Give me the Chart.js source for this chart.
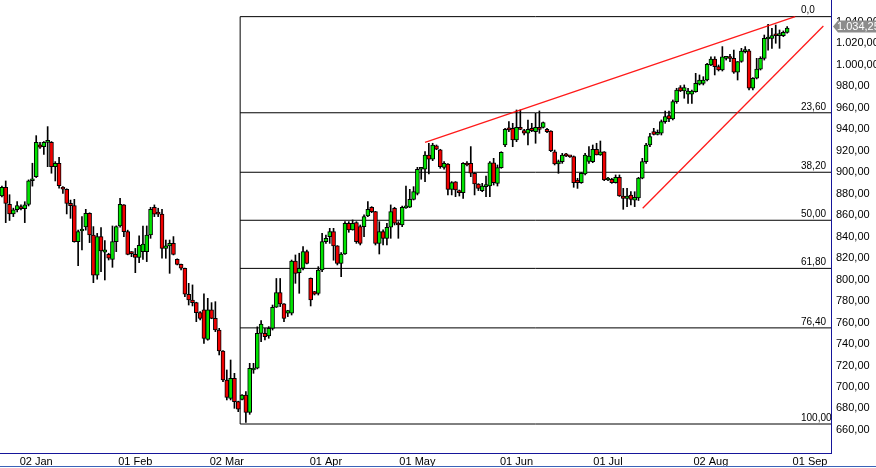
<!DOCTYPE html>
<html>
<head>
<meta charset="utf-8">
<script src="https://cdn.jsdelivr.net/npm/chart.js@4.4.1/dist/chart.umd.min.js"></script>
<style>
  html, body { margin: 0; padding: 0; background: #fff; }
  #wrap { width: 876px; height: 468px; }
</style>
</head>
<body>
<div id="wrap"><canvas id="grafico" width="876" height="468"></canvas></div>
<script>
// candles, one per session
const opens = [877.8,885.9,870.0,861.0,865.0,867.3,866.0,870.0,892.0,895.9,
  925.5,923.8,927.8,927.8,905.1,908.2,884.9,884.0,871.0,868.8,
  835.3,845.2,849.0,861.7,841.5,804.0,840.0,825.4,823.5,818.8,
  835.3,849.9,869.5,844.6,824.7,823.5,820.7,826.0,826.0,841.5,
  867.3,861.5,861.0,829.0,831.3,833.7,818.9,814.2,810.5,786.3,
  781.0,778.5,769.2,771.7,744.3,771.7,763.9,753.0,733.5,706.5,
  689.4,708.0,686.3,688.5,692.5,676.4,715.8,717.4,749.9,749.9,
  747.4,754.6,774.2,787.8,777.3,768.6,768.6,817.3,806.4,810.5,
  826.0,801.2,788.7,787.2,808.9,835.3,840.0,844.6,831.3,815.1,
  823.8,852.4,846.2,853.0,849.3,849.3,859.2,867.3,863.2,833.7,
  844.6,838.4,848.7,866.4,852.4,850.8,866.8,867.3,874.7,880.3,
  902.7,902.7,916.0,912.0,924.4,920.7,904.5,907.6,884.0,891.0,
  882.8,880.9,908.3,908.3,899.0,889.0,882.8,886.5,887.1,908.8,
  889.6,904.2,925.3,940.8,940.8,930.0,941.7,938.6,936.2,940.8,
  937.7,941.7,941.7,939.9,938.3,919.0,907.6,909.8,916.9,914.6,
  914.4,892.7,890.2,898.3,910.0,909.8,921.3,916.0,919.0,892.7,
  893.3,890.2,895.2,877.8,875.6,878.7,874.0,876.0,894.3,909.8,
  925.3,937.7,935.2,936.2,947.0,952.6,949.5,965.7,978.7,975.6,
  972.5,972.5,975.0,982.0,982.7,985.8,999.8,1005.4,998.2,995.1,
  1005.9,1006.2,1006.0,993.0,1003.0,1012.2,1013.0,978.1,987.4,996.0,
  1006.0,1024.0,1024.6,1027.4,1027.1,1027.1,1030.2];
const highs = [887.0,891.8,879.0,866.5,872.5,869.5,872.5,892.8,908.3,934.0,
  927.8,928.5,942.4,928.5,909.8,913.8,886.5,884.5,874.0,874.7,
  846.0,858.6,865.4,862.2,849.3,843.0,848.4,836.3,824.5,849.9,
  850.0,875.7,869.8,846.0,826.0,829.0,840.6,849.9,849.9,867.3,
  869.5,866.4,865.4,836.8,836.8,840.0,819.3,814.5,810.8,796.5,
  795.0,778.9,770.1,786.6,782.5,778.5,779.4,754.6,733.8,715.8,
  725.1,712.7,686.8,693.0,695.6,722.0,722.0,756.0,761.7,754.6,
  756.2,776.3,801.0,801.0,777.6,771.4,818.2,822.9,824.5,830.6,
  827.5,801.5,789.0,812.0,843.0,841.5,847.7,847.7,831.6,825.1,
  853.9,853.9,855.5,853.9,850.8,860.2,872.6,867.9,863.5,853.9,
  846.2,852.4,869.5,867.3,853.9,868.5,887.1,884.0,886.5,904.5,
  903.6,919.1,926.9,926.9,925.3,921.3,909.8,907.9,891.2,891.2,
  883.4,908.9,909.8,923.8,899.6,889.3,889.6,896.4,909.8,912.9,
  906.7,919.0,940.8,947.0,945.5,957.9,957.9,939.9,948.6,945.5,
  954.8,957.0,946.7,940.8,938.6,920.6,911.3,917.5,917.5,915.1,
  915.1,894.3,899.6,917.5,923.7,925.3,926.9,929.0,919.1,895.2,
  894.3,897.4,897.4,884.9,884.9,881.8,881.8,895.2,912.9,926.8,
  936.2,940.8,939.3,948.6,956.9,956.9,967.2,978.1,980.6,981.2,
  978.1,976.5,992.0,990.5,988.9,1001.3,1007.5,1007.5,999.8,1016.9,
  1007.5,1009.7,1013.7,1002.9,1015.3,1016.9,1014.3,988.0,1006.0,1007.5,
  1027.7,1037.7,1033.9,1037.0,1032.4,1031.5,1035.5];
const lows = [877.0,853.0,855.0,858.6,863.0,864.8,853.0,868.5,887.0,895.0,
  922.2,916.6,905.1,899.0,891.8,885.0,880.3,861.1,857.0,834.8,
  813.0,827.5,846.0,834.4,797.1,800.3,807.4,799.6,818.2,811.4,
  826.0,848.7,840.0,823.0,821.3,806.4,815.7,818.8,816.7,838.4,
  858.6,858.6,819.8,819.8,805.8,822.9,813.6,808.9,784.1,776.3,
  775.4,760.8,762.3,740.6,743.5,763.5,751.5,729.8,704.9,687.9,
  687.9,680.1,677.0,687.9,667.0,674.5,712.7,716.8,742.2,743.7,
  745.3,753.0,774.0,774.8,760.8,765.5,767.0,796.5,787.2,809.0,
  814.5,775.4,785.6,785.6,807.4,833.7,833.7,818.0,813.6,802.7,
  823.5,844.0,846.0,833.7,832.2,840.0,858.6,862.3,832.2,823.8,
  832.2,832.2,838.4,850.8,838.4,849.3,866.3,867.0,874.1,878.8,
  893.4,891.2,898.3,910.7,920.9,903.6,902.7,878.8,878.8,877.2,
  877.8,875.6,905.8,895.8,878.8,882.8,881.8,877.2,877.2,888.0,
  887.1,903.6,923.7,937.7,923.7,928.4,939.5,934.6,925.3,937.7,
  926.9,936.2,941.1,936.8,919.1,906.7,898.9,908.2,914.4,913.8,
  885.9,884.9,889.6,897.4,908.2,908.8,916.0,915.6,892.1,892.1,
  889.6,889.8,877.4,865.4,867.9,869.4,867.9,873.6,893.8,908.2,
  923.7,934.6,934.6,934.6,945.5,947.0,948.6,964.1,975.0,968.8,
  964.1,964.1,974.4,981.2,981.2,984.9,999.2,990.5,994.2,994.2,
  1004.4,1002.9,992.0,985.8,1002.3,1011.0,976.5,976.5,986.8,995.1,
  1004.4,1013.7,1015.3,1020.0,1015.3,1026.2,1029.3];
const closes = [885.9,871.0,861.0,865.0,868.8,866.0,869.5,892.0,892.6,927.8,
  923.2,927.8,928.4,905.1,908.2,887.4,884.2,871.0,868.8,835.3,
  844.6,845.8,861.7,841.5,804.0,840.0,826.6,827.6,819.8,835.3,
  849.3,870.0,844.6,823.5,824.2,820.7,831.9,833.1,841.5,865.4,
  860.8,860.9,829.0,831.3,833.7,823.5,814.2,810.5,786.3,781.0,
  778.5,769.2,763.9,745.3,771.7,763.9,753.0,733.5,706.5,690.3,
  708.0,686.3,679.2,692.5,676.4,717.4,717.4,749.9,758.6,746.8,
  754.6,774.2,787.8,777.3,763.9,771.0,817.3,805.8,810.5,826.0,
  815.1,781.0,786.3,808.9,835.3,838.4,844.6,831.3,815.1,823.8,
  852.4,846.2,852.4,835.3,833.7,858.6,865.4,863.2,833.7,844.6,
  838.4,848.7,863.2,852.4,850.8,867.3,867.6,874.7,881.9,902.7,
  903.2,916.0,912.0,925.3,921.3,905.2,908.2,884.0,890.3,883.4,
  880.9,908.3,906.7,899.0,889.0,884.9,887.1,887.5,908.8,890.2,
  904.2,918.5,939.9,939.3,930.0,941.7,939.9,936.2,939.9,938.6,
  941.7,939.9,946.1,937.7,920.0,907.6,909.8,916.0,915.1,914.2,
  890.2,890.2,898.9,916.0,915.0,921.3,916.0,919.0,892.7,894.3,
  890.2,895.2,877.8,875.6,877.8,874.7,876.6,894.5,909.8,925.3,
  933.1,935.2,937.1,947.0,951.7,949.5,965.7,976.5,975.6,978.7,
  975.6,975.6,982.7,985.8,985.8,1000.4,1005.4,998.2,995.1,1007.5,
  1006.2,1005.8,993.0,1003.0,1012.8,1013.4,978.1,987.4,996.0,1006.0,
  1024.6,1024.6,1027.1,1027.0,1027.7,1030.2,1034.25];

// eixo X: sessao onde cai cada rotulo de mes
const monthTickIdx = [9, 35, 59, 85, 109, 135, 159, 186, 212];
const monthTickLabels = ['02 Jan', '01 Feb', '02 Mar', '01 Apr', '01 May', '01 Jun', '01 Jul', '02 Aug', '01 Sep'];
const yTicks = [660, 680, 700, 720, 740, 760, 780, 800, 820, 840, 860, 880, 900, 920, 940, 960, 980, 1000, 1020, 1040];

// Fibonacci
const fibLabels = ['0,0', '23,60', '38,20', '50,00', '61,80', '76,40', '100,00'];
const fibPrices = [1044.8, 955.3, 899.9, 855.2, 810.4, 755.0, 665.5];
const fibStartIdx = 62.5;

// linhas de tendencia (sessao, preco)
const upperTrendX = [111.0, 208.1];
const upperTrendY = [927.8, 1044.8];
const lowerTrendX = [168.1, 215.5];
const lowerTrendY = [866.4, 1036.1];

const lastPrice = 1034.25;
const X_MAX = 217.5;

function formatarPreco(v) {
    const partes = v.toFixed(2).split('.');
    partes[0] = partes[0].replace(/\B(?=(\d{3})+(?!\d))/g, '.');
    return partes.join(',');
}

const FONTE = '"Liberation Sans", Arial, sans-serif';
const AZUL = '#16169a';

const wicks = opens.map((o, i) => ({ x: i, y: [lows[i], highs[i]] }));
const corpos = opens.map((o, i) => ({ x: i, y: [Math.min(o, closes[i]), Math.max(o, closes[i])] }));
const coresCorpo = opens.map((o, i) => closes[i] >= o ? '#00e400' : '#f00000');

const datasets = [];

// corpo por cima do pavio
datasets.push({
    type: 'bar', data: corpos, backgroundColor: coresCorpo, borderColor: '#000', borderWidth: 1,
    borderSkipped: false, barThickness: 4, minBarLength: 2, grouped: false, order: 0
});
datasets.push({
    type: 'bar', data: wicks, backgroundColor: '#000', borderWidth: 0,
    barThickness: 1, grouped: false, order: 1
});

// niveis de Fibonacci
fibPrices.forEach(p => {
    datasets.push({
        type: 'line', data: [{ x: fibStartIdx, y: p }, { x: X_MAX, y: p }],
        borderColor: '#000', borderWidth: 1, pointRadius: 0, fill: false, order: 3
    });
});
datasets.push({
    type: 'line', data: [{ x: fibStartIdx, y: fibPrices[fibPrices.length - 1] }, { x: fibStartIdx, y: fibPrices[0] }],
    borderColor: '#000', borderWidth: 1, pointRadius: 0, fill: false, order: 3
});

// tendencias em vermelho
datasets.push({
    type: 'line', data: upperTrendX.map((x, i) => ({ x: x, y: upperTrendY[i] })),
    borderColor: 'rgba(255,0,0,0.9)', borderWidth: 1.3, pointRadius: 0, fill: false, order: -1
});
datasets.push({
    type: 'line', data: lowerTrendX.map((x, i) => ({ x: x, y: lowerTrendY[i] })),
    borderColor: 'rgba(255,0,0,0.9)', borderWidth: 1.3, pointRadius: 0, fill: false, order: -1
});

const extras = {
    id: 'extras',
    afterDraw(chart) {
        const { ctx, chartArea, scales } = chart;
        const yS = scales.y;
        ctx.save();

        // rotulos de Fibonacci
        ctx.font = '10px ' + FONTE;
        ctx.fillStyle = '#000';
        ctx.textAlign = 'left';
        ctx.textBaseline = 'bottom';
        fibPrices.forEach((p, i) => {
            ctx.fillText(fibLabels[i], chartArea.right - 30, yS.getPixelForValue(p) - 1);
        });

        // etiqueta do ultimo preco
        const yp = Math.round(yS.getPixelForValue(lastPrice)) - 1.5;
        const x0 = chartArea.right + 2;
        ctx.fillStyle = '#8c8c8c';
        ctx.beginPath();
        ctx.moveTo(x0, yp);
        ctx.lineTo(x0 + 5, yp - 6);
        ctx.lineTo(chart.width, yp - 6);
        ctx.lineTo(chart.width, yp + 6);
        ctx.lineTo(x0 + 5, yp + 6);
        ctx.closePath();
        ctx.fill();
        ctx.fillStyle = '#fff';
        ctx.font = '11px ' + FONTE;
        ctx.textBaseline = 'middle';
        ctx.fillText(formatarPreco(lastPrice), x0 + 4, yp + 0.5);

        // linha azul do rodape
        ctx.strokeStyle = '#3a62b8';
        ctx.lineWidth = 1;
        ctx.beginPath();
        ctx.moveTo(0, chart.height - 1.5);
        ctx.lineTo(chart.width, chart.height - 1.5);
        ctx.stroke();
        ctx.restore();
    }
};

new Chart(document.getElementById('grafico'), {
    type: 'bar',
    data: { datasets: datasets },
    plugins: [extras],
    options: {
        responsive: false,
        animation: false,
        layout: { padding: 0 },
        plugins: { legend: { display: false }, tooltip: { enabled: false } },
        scales: {
            x: {
                type: 'linear', min: -0.5, max: X_MAX, offset: false,
                grid: { display: false, drawTicks: false },
                border: { display: true, color: AZUL, width: 1 },
                afterBuildTicks: s => { s.ticks = monthTickIdx.map(v => ({ value: v })); },
                afterFit: s => { s.height = 15; s.paddingLeft = 0; s.paddingRight = 0; },
                ticks: {
                    autoSkip: false, maxRotation: 0, padding: 2, color: '#000',
                    font: { family: FONTE, size: 11 },
                    callback: v => monthTickLabels[monthTickIdx.indexOf(v)] || ''
                }
            },
            y: {
                type: 'linear', position: 'right', min: 638.5, max: 1060.3,
                grid: { display: false, drawTicks: false },
                border: { display: true, color: AZUL, width: 1 },
                afterBuildTicks: s => { s.ticks = yTicks.map(v => ({ value: v })); },
                afterFit: s => { s.width = 45; s.paddingTop = 0; s.paddingBottom = 0; },
                ticks: {
                    padding: 5, color: '#000',
                    font: { family: FONTE, size: 11 },
                    callback: v => formatarPreco(v)
                }
            }
        }
    }
});
</script>
</body>
</html>
